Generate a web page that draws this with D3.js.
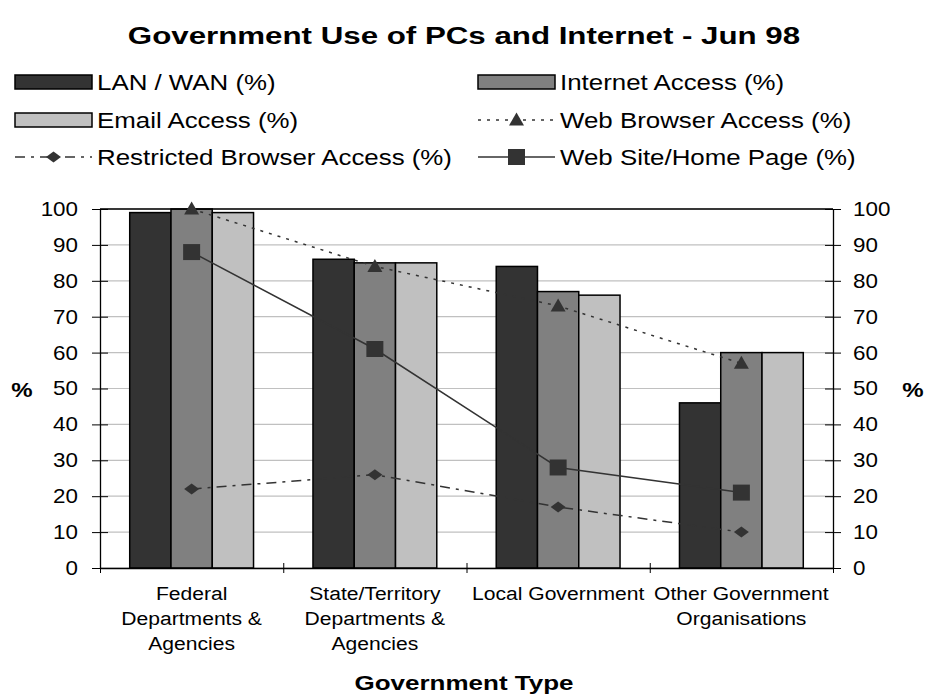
<!DOCTYPE html>
<html>
<head>
<meta charset="utf-8">
<script src="https://cdn.jsdelivr.net/npm/d3@7"></script>
<style>
  html, body { margin: 0; padding: 0; background: #fff; }
  svg { display: block; font-family: "Liberation Sans", Arial, sans-serif; }
</style>
</head>
<body>
<svg id="chart" width="928" height="695"></svg>
<script>
// Government use of PCs and Internet, June 1998 (percent of organisations)
const categories = ["Federal", "State/Territory", "Local", "Other"];
const categoryLines = [
  ["Federal", "Departments &", "Agencies"],
  ["State/Territory", "Departments &", "Agencies"],
  ["Local Government"],
  ["Other Government", "Organisations"]
];
const lanWan     = [99, 86, 84, 46];
const internet   = [100, 85, 77, 60];
const email      = [99, 85, 76, 60];
const webBrowser = [100, 84, 73, 57];
const restricted = [22, 26, 17, 10];
const webSite    = [88, 61, 28, 21];
const yTicks = [0, 10, 20, 30, 40, 50, 60, 70, 80, 90, 100];

const barSeries = [
  { name: "LAN / WAN (%)", values: lanWan, fill: "#333333" },
  { name: "Internet Access (%)", values: internet, fill: "#808080" },
  { name: "Email Access (%)", values: email, fill: "#c0c0c0" }
];
const lineSeries = [
  { name: "Web Browser Access (%)", values: webBrowser, dash: "3,6", marker: "triangle" },
  { name: "Restricted Browser Access (%)", values: restricted, dash: "10,6,3,6", marker: "diamond" },
  { name: "Web Site/Home Page (%)", values: webSite, dash: null, marker: "square" }
];

const ink = "#333333";
const svg = d3.select("#chart");
const plot = { left: 100, right: 833, top: 209, bottom: 568 };

const x = d3.scaleBand().domain(categories).range([plot.left, plot.right]).padding(0);
const xInner = d3.scaleBand().domain(barSeries.map(s => s.name))
  .range([0, x.bandwidth()]).paddingInner(0).paddingOuter(0.72);
const y = d3.scaleLinear().domain([0, 100]).range([plot.bottom, plot.top]);
const xBound = d3.scaleLinear().domain([0, categories.length]).range([plot.left, plot.right]);

// text helper: places a label at (px,py) with optional horizontal stretch
function label(parent, str, px, py, o = {}) {
  return parent.append("text")
    .attr("transform", `translate(${px},${py}) scale(${o.sx || 1},1)`)
    .attr("text-anchor", o.anchor || "start")
    .attr("font-size", o.size || 20)
    .attr("font-weight", o.bold ? "bold" : "normal")
    .attr("fill", "#000")
    .text(str);
}

// marker outlines (centred on 0,0)
const markerPath = {
  triangle: "M0,-7.5L7.5,5.5L-7.5,5.5Z",
  diamond: "M-7.5,0L0,-5.5L7.5,0L0,5.5Z",
  square: "M-8.5,-8L8.5,-8L8.5,8L-8.5,8Z"
};

// title
label(svg, "Government Use of PCs and Internet - Jun 98", 464, 44, { anchor: "middle", size: 23, bold: true, sx: 1.36 });

// gridlines
svg.append("g").selectAll("line").data(yTicks).join("line")
  .attr("x1", plot.left).attr("x2", plot.right)
  .attr("y1", d => y(d)).attr("y2", d => y(d))
  .attr("stroke", "#c0c0c0").attr("stroke-width", 1.2);

// bars
const groups = svg.append("g").selectAll("g").data(barSeries).join("g")
  .attr("fill", d => d.fill);
groups.selectAll("rect")
  .data(s => s.values.map((v, i) => ({ s, v, c: categories[i] })))
  .join("rect")
  .attr("x", d => x(d.c) + xInner(d.s.name))
  .attr("width", xInner.bandwidth())
  .attr("y", d => y(d.v))
  .attr("height", d => y(0) - y(d.v))
  .attr("stroke", "#000").attr("stroke-width", 1.5);

// frame and axes
svg.append("line").attr("x1", plot.left).attr("x2", plot.right)
  .attr("y1", plot.top).attr("y2", plot.top).attr("stroke", "#000").attr("stroke-width", 1.3);

const axL = svg.append("g").attr("transform", `translate(${plot.left},0)`)
  .call(d3.axisLeft(y).tickValues(yTicks).tickSize(0).tickPadding(0));
axL.selectAll(".tick line").attr("x1", -8).attr("x2", 8).attr("stroke", "#000");
axL.selectAll(".tick text").attr("x", null)
  .attr("transform", "translate(-22,0) scale(1.12,1)")
  .attr("font-size", 20).attr("font-family", null).attr("fill", "#000");

const axR = svg.append("g").attr("transform", `translate(${plot.right},0)`)
  .call(d3.axisRight(y).tickValues(yTicks).tickSize(0).tickPadding(0));
axR.selectAll(".tick line").attr("x1", -8).attr("x2", 8).attr("stroke", "#000");
axR.selectAll(".tick text").attr("x", null)
  .attr("transform", "translate(20,0) scale(1.12,1)")
  .attr("font-size", 20).attr("font-family", null).attr("fill", "#000");

const axB = svg.append("g").attr("transform", `translate(0,${plot.bottom})`)
  .call(d3.axisBottom(xBound).tickValues(d3.range(categories.length + 1)).tickFormat("").tickSize(0));
axB.selectAll(".tick line").attr("y1", -5).attr("y2", 5).attr("stroke", "#000");
[axL, axR, axB].forEach(a => a.select(".domain").attr("stroke", "#000").attr("stroke-width", 1.3));

// category labels
categoryLines.forEach((lines, i) => {
  const cx = x(categories[i]) + x.bandwidth() / 2;
  lines.forEach((ln, j) => label(svg, ln, cx, 600 + j * 25, { anchor: "middle", size: 19, sx: 1.11 }));
});

// axis titles
label(svg, "Government Type", 464, 690, { anchor: "middle", size: 20, bold: true, sx: 1.3 });
label(svg, "%", 22, 397, { anchor: "middle", size: 20, bold: true, sx: 1.2 });
label(svg, "%", 913, 397, { anchor: "middle", size: 20, bold: true, sx: 1.2 });

// lines with markers
const cxOf = i => x(categories[i]) + x.bandwidth() / 2;
lineSeries.forEach(s => {
  const line = d3.line().x((d, i) => cxOf(i)).y(d => y(d));
  svg.append("path").datum(s.values)
    .attr("d", line).attr("fill", "none")
    .attr("stroke", ink).attr("stroke-width", 1.5)
    .attr("stroke-dasharray", s.dash);
  svg.append("g").selectAll("path").data(s.values).join("path")
    .attr("transform", (d, i) => `translate(${cxOf(i)},${y(d)})`)
    .attr("d", markerPath[s.marker])
    .attr("fill", ink);
});

// legend
const legendItems = [
  { item: barSeries[0], col: 0, row: 0, type: "bar" },
  { item: barSeries[1], col: 1, row: 0, type: "bar" },
  { item: barSeries[2], col: 0, row: 1, type: "bar" },
  { item: lineSeries[0], col: 1, row: 1, type: "line" },
  { item: lineSeries[1], col: 0, row: 2, type: "line" },
  { item: lineSeries[2], col: 1, row: 2, type: "line" }
];
const legCols = [15, 478];
const legRows = [82, 120, 157];
const swatchW = 77;
legendItems.forEach(({ item, col, row, type }) => {
  const lx = legCols[col], ly = legRows[row];
  const g = svg.append("g");
  if (type === "bar") {
    g.append("rect").attr("x", lx).attr("y", ly - 7).attr("width", swatchW).attr("height", 14)
      .attr("fill", item.fill).attr("stroke", "#000").attr("stroke-width", 1.5);
  } else {
    g.append("line").attr("x1", lx).attr("x2", lx + swatchW).attr("y1", ly).attr("y2", ly)
      .attr("stroke", ink).attr("stroke-width", 1.5).attr("stroke-dasharray", item.dash);
    g.append("path").attr("transform", `translate(${lx + swatchW / 2},${ly})`)
      .attr("d", markerPath[item.marker]).attr("fill", ink);
  }
  label(g, item.name, lx + swatchW + 5, ly + 8, { size: 22.5, sx: 1.15 });
});
</script>
</body>
</html>
